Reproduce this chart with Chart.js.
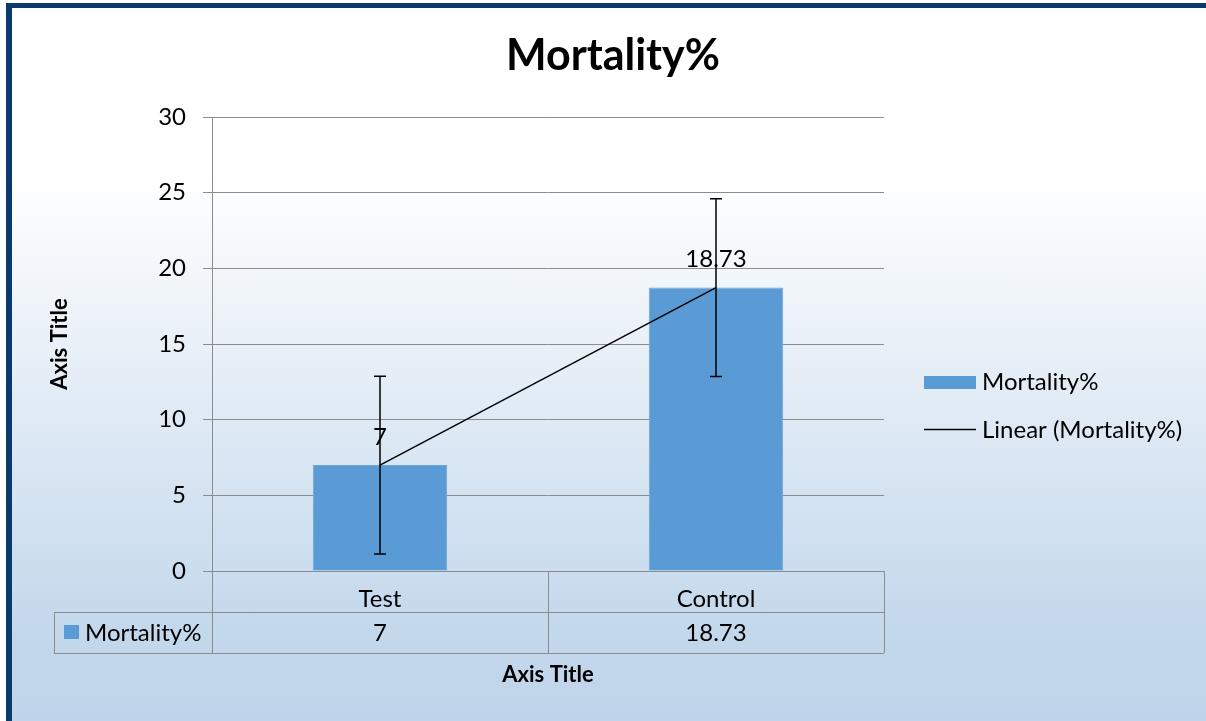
<!DOCTYPE html>
<html lang="en">
<head>
<meta charset="UTF-8">
<title>Mortality%</title>
<script src="https://cdn.jsdelivr.net/npm/chart.js"></script>
<style>
    body { margin: 0; background: #fff; overflow: hidden; }
    .frame {
        position: absolute; left: 6px; top: 3px; width: 1200px; height: 718px;
        box-sizing: border-box;
        border-top: 5px solid #0a3a6c; border-left: 6px solid #0a3a6c;
        background: linear-gradient(to bottom, #ffffff 0px, #ffffff 165px, #c4d8ec 620px, #bfd4ea 718px);
    }
    .chart-box { position: absolute; left: 0; top: 0; width: 1206px; height: 721px; }
</style>
</head>
<body>
<div class="frame"></div>
<div class="chart-box"><canvas id="mortChart"></canvas></div>

<script>
    const categories = ['Test', 'Control'];
    const mortality = [7, 18.73];
    const errorAmount = [5.87, 5.87];
    const trendValues = [7, 18.73];
    const yTicks = [0, 5, 10, 15, 20, 25, 30];

    const FONT = 'Lato, "Open Sans", sans-serif';
    const BLUE = '#5b9bd5';
    const GRID = '#8c8c8c';

    // title, legend, error bars, labels and the data table under the axis
    const extras = {
        id: 'extras',
        afterDatasetsDraw(chart) {
            const ctx = chart.ctx;
            const x = chart.scales.x, y = chart.scales.y;
            ctx.save();
            ctx.font = '24px ' + FONT;
            ctx.fillStyle = '#000';
            ctx.textAlign = 'center';
            ctx.textBaseline = 'middle';
            mortality.forEach((v, i) => {
                ctx.fillText(String(v), x.getPixelForValue(i), y.getPixelForValue(v) - 28);
            });

            ctx.strokeStyle = '#000';
            ctx.lineWidth = 1.5;
            mortality.forEach((v, i) => {
                const px = x.getPixelForValue(i);
                const top = y.getPixelForValue(v + errorAmount[i]);
                const bot = y.getPixelForValue(v - errorAmount[i]);
                ctx.beginPath();
                ctx.moveTo(px, top); ctx.lineTo(px, bot);
                ctx.moveTo(px - 6, top); ctx.lineTo(px + 6, top);
                ctx.moveTo(px - 6, bot); ctx.lineTo(px + 6, bot);
                ctx.stroke();
            });
            ctx.restore();
        },
        afterDraw(chart) {
            const ctx = chart.ctx;
            const x = chart.scales.x, y = chart.scales.y;
            ctx.save();

            ctx.fillStyle = '#000';
            ctx.font = 'bold 43px ' + FONT;
            ctx.textAlign = 'center';
            ctx.textBaseline = 'middle';
            ctx.fillText('Mortality%', 613, 56);

            // legend
            ctx.font = '24px ' + FONT;
            ctx.textAlign = 'left';
            ctx.fillStyle = BLUE;
            ctx.fillRect(924, 376, 52, 13);
            ctx.fillStyle = '#000';
            ctx.fillText('Mortality%', 982, 382);
            ctx.strokeStyle = '#000';
            ctx.lineWidth = 1.5;
            ctx.beginPath(); ctx.moveTo(924, 429.5); ctx.lineTo(976, 429.5); ctx.stroke();
            ctx.fillText('Linear (Mortality%)', 982, 430);

            // data table
            const catW = (x.right - x.left) / categories.length;
            const rowTop = y.bottom, rowMid = 612, rowBot = 653, tableLeft = 54;
            ctx.strokeStyle = GRID;
            ctx.lineWidth = 1;
            ctx.beginPath();
            for (let i = 0; i <= categories.length; i++) {
                const lx = Math.round(x.left + i * catW) + 0.5;
                ctx.moveTo(lx, rowTop); ctx.lineTo(lx, rowBot);
            }
            ctx.moveTo(tableLeft + 0.5, rowMid); ctx.lineTo(tableLeft + 0.5, rowBot);
            ctx.moveTo(tableLeft, rowMid + 0.5); ctx.lineTo(x.right, rowMid + 0.5);
            ctx.moveTo(tableLeft, rowBot + 0.5); ctx.lineTo(x.right, rowBot + 0.5);
            ctx.stroke();

            ctx.fillStyle = BLUE;
            ctx.fillRect(64, 625, 15, 14);
            ctx.fillStyle = '#000';
            ctx.fillText('Mortality%', 85, 633);
            ctx.textAlign = 'center';
            mortality.forEach((v, i) => ctx.fillText(String(v), x.getPixelForValue(i), 633));
            ctx.restore();
        }
    };

    const config = {
        data: {
            labels: categories,
            datasets: [
                {
                    type: 'line',
                    label: 'Linear (Mortality%)',
                    data: trendValues,
                    borderColor: '#000',
                    borderWidth: 1.5,
                    pointRadius: 0,
                    fill: false,
                    order: 1
                },
                {
                    type: 'bar',
                    label: 'Mortality%',
                    data: mortality,
                    backgroundColor: BLUE,
                    borderColor: '#6aa6dc',
                    borderWidth: 1,
                    barPercentage: 0.4,
                    categoryPercentage: 1.0,
                    order: 2
                }
            ]
        },
        options: {
            responsive: false,
            animation: false,
            layout: { padding: { top: 117, left: 47, right: 322, bottom: 33 } },
            plugins: {
                legend: { display: false },
                tooltip: { enabled: false },
                title: { display: false }
            },
            scales: {
                x: {
                    grid: { display: false },
                    border: { display: true, color: GRID, width: 1 },
                    ticks: { color: '#000', padding: 6, font: { family: FONT, size: 24 } },
                    title: {
                        display: true, text: 'Axis Title', color: '#000',
                        font: { family: FONT, size: 22, weight: 'bold' },
                        padding: { top: 0, bottom: 0 }
                    },
                    afterFit: (scale) => { scale.height = 117; }
                },
                y: {
                    min: 0, max: 30,
                    afterBuildTicks: (scale) => { scale.ticks = yTicks.map(v => ({ value: v })); },
                    grid: { color: GRID, lineWidth: 1, tickLength: 9 },
                    border: { display: true, color: GRID, width: 1 },
                    ticks: { color: '#000', padding: 17, font: { family: FONT, size: 24 } },
                    title: {
                        display: true, text: 'Axis Title', color: '#000',
                        font: { family: FONT, size: 22, weight: 'bold' },
                        padding: { top: 0, bottom: 0 }
                    },
                    afterFit: (scale) => { scale.width = 165; }
                }
            }
        },
        plugins: [extras]
    };

    const canvas = document.getElementById('mortChart');
    canvas.width = 1206;
    canvas.height = 721;
    new Chart(canvas.getContext('2d'), config);
</script>
</body>
</html>
